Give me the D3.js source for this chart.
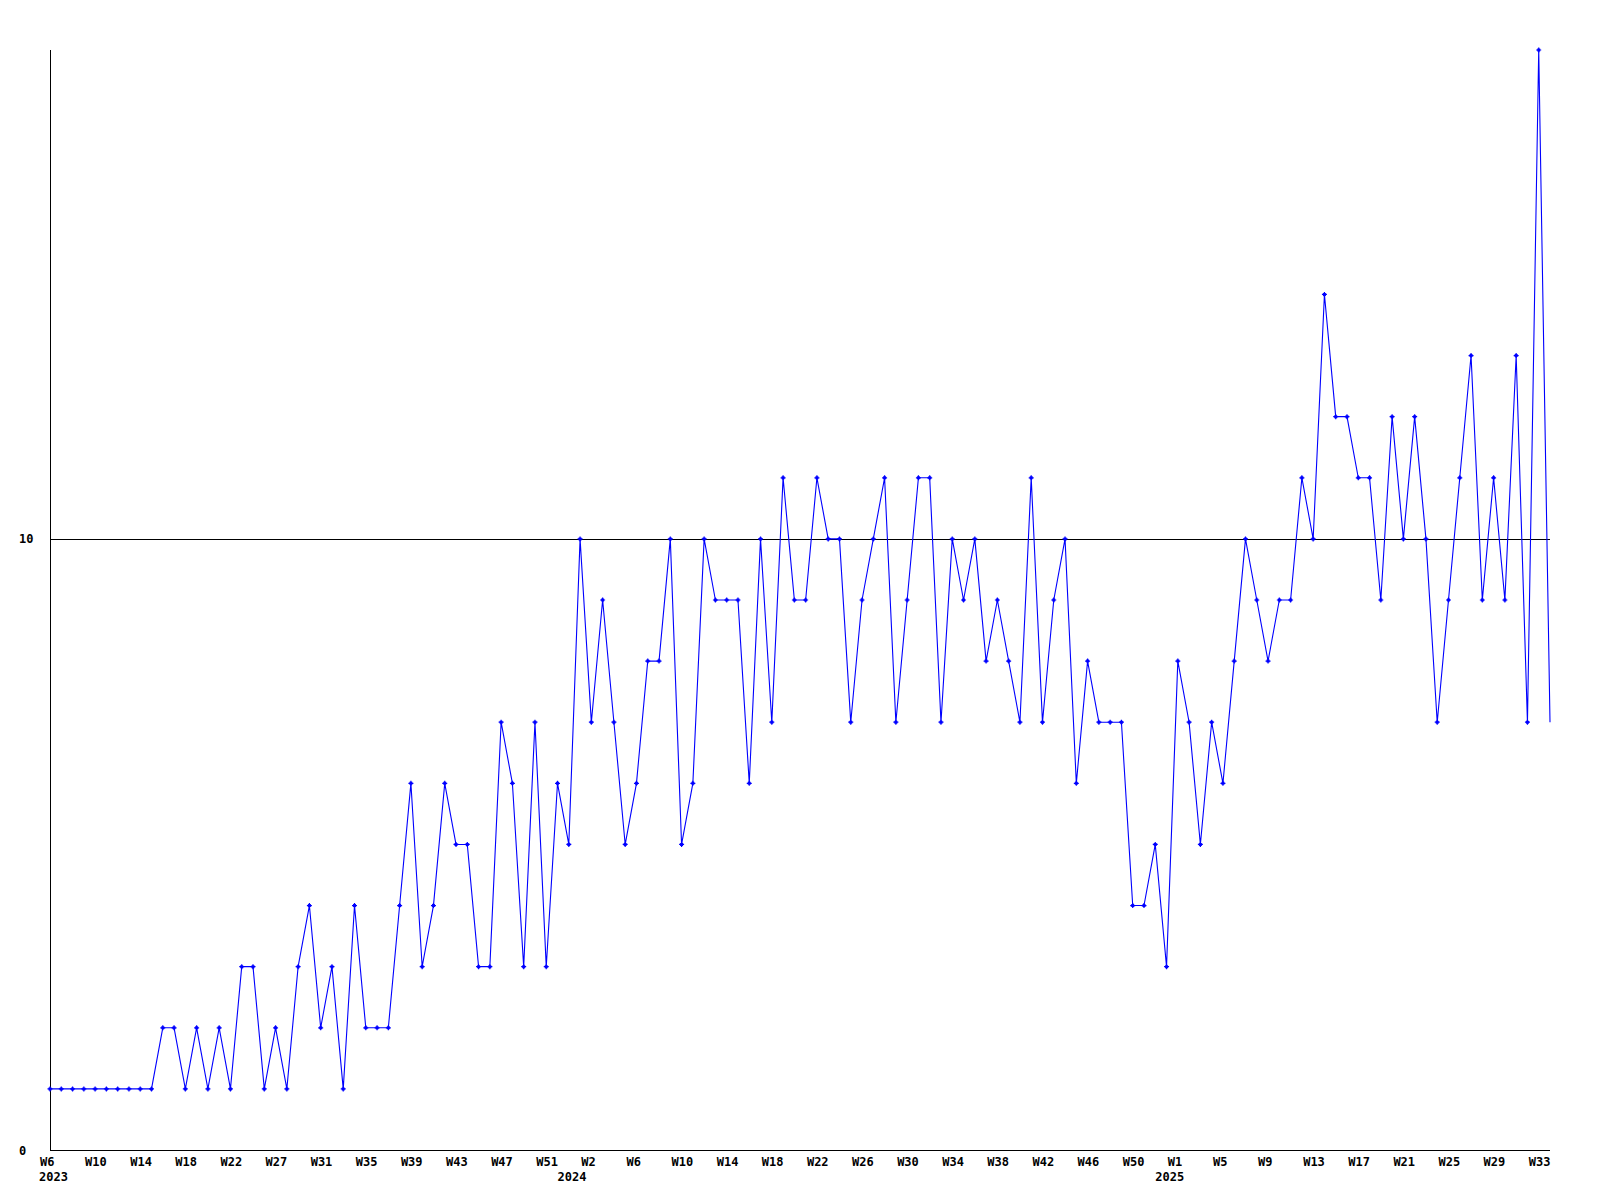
<!DOCTYPE html>
<html>
<head>
<meta charset="utf-8">
<script src="https://cdn.jsdelivr.net/npm/d3@7"></script>
<style>
  html, body { margin: 0; padding: 0; background: #fff; }
  svg { display: block; }
  text { font-family: "DejaVu Sans Mono", "Liberation Mono", monospace; font-weight: bold; font-size: 12px; fill: #000; }
</style>
</head>
<body>
<svg id="chart" width="1600" height="1200"></svg>
<script>
// Weekly values, 2023 W6 .. 2025 W34 (last week partial)
const values = [
  1,1,1,1,1,1,1,1,1,1, 2,2,1,2,1,2,1,3,3,1,
  2,1,3,4,2,3,1,4,2,2, 2,4,6,3,4,6,5,5,3,3,
  7,6,3,7,3,6,5,10,7,9, 7,5,6,8,8,10,5,6,10,9,
  9,9,6,10,7,11,9,9,11,10, 10,7,9,10,11,7,9,11,11,7,
  10,9,10,8,9,8,7,11,7,9, 10,6,8,7,7,7,4,4,5,3,
  8,7,5,7,6,8,10,9,8,9, 9,11,10,14,12,12,11,11,9,12,
  10,12,10,7,9,11,13,9,11,9, 13,7,18,7
];
const weekLabels = [
  "W6","W10","W14","W18","W22","W27","W31","W35","W39","W43","W47","W51",
  "W2","W6","W10","W14","W18","W22","W26","W30","W34","W38","W42","W46","W50",
  "W1","W5","W9","W13","W17","W21","W25","W29","W33"
];
const yearLabels = ["2023", "2024", "2025"];
const yearStartIndex = [0, 47, 100];
const yTickValues = [0, 10];
const yMax = 18;
const tickEvery = 4;

const svg = d3.select("#chart");
const pLeft = 50, pRight = 1550, pTop = 50, pBottom = 1150;

const x = d3.scaleLinear().domain([0, values.length - 1]).range([pLeft, pRight]);
const y = d3.scaleLinear().domain([0, yMax]).range([pBottom, pTop]);

// Axes
const g = svg.append("g");
g.append("line").attr("x1", pLeft + 0.5).attr("x2", pLeft + 0.5).attr("y1", pTop).attr("y2", pBottom)
  .attr("stroke", "#000").attr("stroke-width", 1).attr("shape-rendering", "crispEdges");
g.append("line").attr("x1", pLeft).attr("x2", pRight).attr("y1", y(0) + 0.5).attr("y2", y(0) + 0.5)
  .attr("stroke", "#000").attr("stroke-width", 1).attr("shape-rendering", "crispEdges");

// Horizontal reference line(s) for non-zero ticks
g.selectAll("line.grid").data(yTickValues.filter(v => v !== 0)).join("line")
  .attr("class", "grid")
  .attr("x1", pLeft).attr("x2", pRight)
  .attr("y1", d => Math.round(y(d)) + 0.5).attr("y2", d => Math.round(y(d)) + 0.5)
  .attr("stroke", "#000").attr("stroke-width", 1).attr("shape-rendering", "crispEdges");

// Y labels
g.selectAll("text.ylab").data(yTickValues).join("text")
  .attr("class", "ylab")
  .attr("x", 19)
  .attr("y", d => y(d) + 4.5)
  .text(d => d);

// X week labels
g.selectAll("text.wlab").data(weekLabels).join("text")
  .attr("class", "wlab")
  .attr("x", (d, i) => x(i * tickEvery) - 10)
  .attr("y", pBottom + 16)
  .text(d => d);

// Year labels
g.selectAll("text.yrlab").data(yearLabels).join("text")
  .attr("class", "yrlab")
  .attr("text-anchor", "middle")
  .attr("x", (d, i) => Math.max(x(yearStartIndex[i]) - 8, 40 + 13.5))
  .attr("y", pBottom + 31)
  .text(d => d);

// Line
const line = d3.line().x((d, i) => x(i)).y(d => y(d));
svg.append("path")
  .datum(values)
  .attr("d", line)
  .attr("fill", "none")
  .attr("stroke", "#0000ff")
  .attr("stroke-width", 1.1);

// Markers (no marker on the final, partial week)
const marker = "M-2.5,-0.6h5v1.2h-5z M-0.6,-2.5h1.2v5h-1.2z M-1.5,-1.5h3v3h-3z";
svg.append("g").selectAll("path").data(values.slice(0, -1)).join("path")
  .attr("transform", (d, i) => `translate(${x(i)},${y(d)})`)
  .attr("d", marker)
  .attr("fill", "#0000ff");
</script>
</body>
</html>
